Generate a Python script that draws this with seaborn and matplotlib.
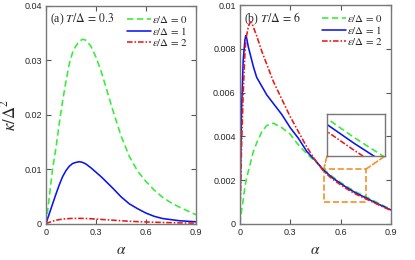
import matplotlib.pyplot as plt
import seaborn as sns
from matplotlib.patches import Rectangle, ConnectionPatch

# panel (a), T/Delta = 0.3
alpha_a = [0, 0.01, 0.02, 0.04, 0.06, 0.08, 0.1, 0.12, 0.14, 0.16, 0.18, 0.2, 0.22, 0.24,
           0.27, 0.3, 0.33, 0.36, 0.4, 0.45, 0.5, 0.55, 0.6, 0.65, 0.7, 0.75, 0.8, 0.85, 0.9]
green_a = [0, 0.0024, 0.0050, 0.0102, 0.0140, 0.0185, 0.0226, 0.0262, 0.0294, 0.0315, 0.0327,
           0.0335, 0.0339, 0.0337, 0.0326, 0.0306, 0.0281, 0.0251, 0.0210, 0.0162, 0.0124,
           0.0097, 0.0078, 0.0062, 0.0049, 0.0039, 0.0031, 0.0024, 0.0017]
blue_a = [0, 0.0010, 0.0019, 0.0037, 0.0055, 0.0072, 0.0087, 0.0098, 0.0106, 0.0111, 0.0113,
          0.01143, 0.0113, 0.0110, 0.0103, 0.0095, 0.0087, 0.0078, 0.0066, 0.0050, 0.0037,
          0.0028, 0.0020, 0.0014, 0.0010, 0.0008, 0.0006, 0.0005, 0.0004]
red_a = [0, 0.0002, 0.0003, 0.0005, 0.0007, 0.0008, 0.0009, 0.00096, 0.0010, 0.00102, 0.00103,
         0.00103, 0.00102, 0.0010, 0.00096, 0.0009, 0.00084, 0.00078, 0.0007, 0.0006, 0.0005,
         0.00043, 0.00037, 0.00032, 0.00028, 0.00024, 0.0002, 0.00018, 0.00016]

# panel (b), T/Delta = 6
alpha_b = [0, 0.005, 0.01, 0.02, 0.03, 0.035, 0.04, 0.05, 0.06, 0.07, 0.08, 0.1, 0.13, 0.16,
           0.2, 0.25, 0.3, 0.35, 0.4, 0.45, 0.5, 0.55, 0.6, 0.65, 0.7, 0.75, 0.8, 0.85, 0.9]
green_b = [0, 0.0003, 0.0006, 0.0011, 0.0017, 0.0019, 0.0021, 0.0024, 0.0027, 0.0030, 0.0033,
           0.0037, 0.0042, 0.0045, 0.0046, 0.0044, 0.0041, 0.0036, 0.0032, 0.00285, 0.0025,
           0.00217, 0.0019, 0.00165, 0.00143, 0.00125, 0.00105, 0.00086, 0.00066]
blue_b = [0, 0.0028, 0.0052, 0.0075, 0.0084, 0.0086, 0.0085, 0.0081, 0.0078, 0.0075, 0.0072,
          0.0067, 0.0063, 0.0059, 0.0055, 0.0050, 0.0044, 0.0039, 0.0033, 0.0029, 0.00245,
          0.00212, 0.00185, 0.0016, 0.00138, 0.0012, 0.001, 0.00082, 0.00064]
red_b = [0, 0.0018, 0.0035, 0.0060, 0.0078, 0.0083, 0.0086, 0.0090, 0.0092, 0.0092, 0.0090,
         0.0086, 0.0079, 0.0073, 0.0065, 0.0057, 0.0049, 0.0042, 0.0035, 0.0029, 0.0024,
         0.00206, 0.00179, 0.00154, 0.00133, 0.00115, 0.00097, 0.00079, 0.00062]

labels = [r'$\varepsilon/\Delta\,=\,0$', r'$\varepsilon/\Delta\,=\,1$', r'$\varepsilon/\Delta\,=\,2$']
colors = ['#33ee33', '#0a14f0', '#f01414']
styles = [(0, (4, 2.2)), '-', (0, (3.5, 1.2, 1, 1.2))]

sns.set_style('ticks')
plt.rcParams['font.family'] = ['Liberation Sans', 'DejaVu Sans']
plt.rcParams['mathtext.fontset'] = 'stix'

fig = plt.figure(figsize=(4.15, 2.6), dpi=100)
ax1 = fig.add_axes([0.1108, 0.1385, 0.3614, 0.8385])
ax2 = fig.add_axes([0.578, 0.1385, 0.364, 0.842])


def draw_curves(ax, x, series, legend=True):
    for y, lab, c, ls in zip(series, labels, colors, styles):
        sns.lineplot(x=x, y=y, ax=ax, color=c, linestyle=ls, linewidth=1.15,
                     label=lab if legend else None, legend=False)


def style_axes(ax):
    ax.tick_params(direction='in', length=3.5, width=0.8, labelsize=6.5, color='#555555',
                   top=True, right=True, pad=3)
    for s in ax.spines.values():
        s.set_color('#777777')
        s.set_linewidth(1.0)
    ax.set_xlim(0, 0.9)
    ax.set_xticks([0, 0.3, 0.6, 0.9])
    ax.set_xticklabels(['0', '0.3', '0.6', '0.9'])
    ax.set_xlabel(r'$\alpha$', fontsize=11, labelpad=4)
    ax.legend(loc='upper right', frameon=False, fontsize=7.8, handlelength=2.2,
              handletextpad=0.1, labelspacing=0.0, borderaxespad=0.35)


draw_curves(ax1, alpha_a, [green_a, blue_a, red_a])
ax1.set_ylim(0, 0.04)
ax1.set_yticks([0, 0.01, 0.02, 0.03, 0.04])
ax1.set_yticklabels(['0', '0.01', '0.02', '0.03', '0.04'])
ax1.set_ylabel(r'$\kappa/\Delta^2$', fontsize=12, labelpad=4)
style_axes(ax1)
ax1.text(0.03, 0.975, r'(a) $T/\Delta\,=\,0.3$', transform=ax1.transAxes, fontsize=8.5,
         family='Liberation Serif', va='top', ha='left')

draw_curves(ax2, alpha_b, [green_b, blue_b, red_b])
ax2.set_ylim(0, 0.01)
ax2.set_yticks([0, 0.002, 0.004, 0.006, 0.008, 0.01])
ax2.set_yticklabels(['0', '0.002', '0.004', '0.006', '0.008', '0.01'])
ax2.set_ylabel('')
style_axes(ax2)
ax2.text(0.03, 0.975, r'(b) $T/\Delta\,=\,6$', transform=ax2.transAxes, fontsize=8.5,
         family='Liberation Serif', va='top', ha='left')

# zoom box and inset
zoom_x = (0.5, 0.75)
zoom_y = (0.001, 0.0025)
orange = '#f5902a'
ax2.add_patch(Rectangle((zoom_x[0], zoom_y[0]), zoom_x[1] - zoom_x[0], zoom_y[1] - zoom_y[0],
                        fill=False, edgecolor=orange, linestyle='--', linewidth=1.2))

axin = ax2.inset_axes([0.576, 0.31, 0.384, 0.192])
draw_curves(axin, alpha_b, [green_b, blue_b, red_b], legend=False)
axin.set_xlim(0.57, 0.634)
axin.set_ylim(0.00174, 0.0021)
axin.set_xticks([])
axin.set_yticks([])
axin.set_xlabel('')
axin.set_ylabel('')
for s in axin.spines.values():
    s.set_color('#777777')
    s.set_linewidth(1.0)

for corner, px in [((0, 0), zoom_x[0]), ((1, 0), zoom_x[1])]:
    con = ConnectionPatch(xyA=corner, coordsA=axin.transAxes, xyB=(px, zoom_y[1]),
                          coordsB=ax2.transData, color=orange, linestyle='--', linewidth=1.2)
    ax2.add_artist(con)

fig.savefig('out.png', dpi=100)
